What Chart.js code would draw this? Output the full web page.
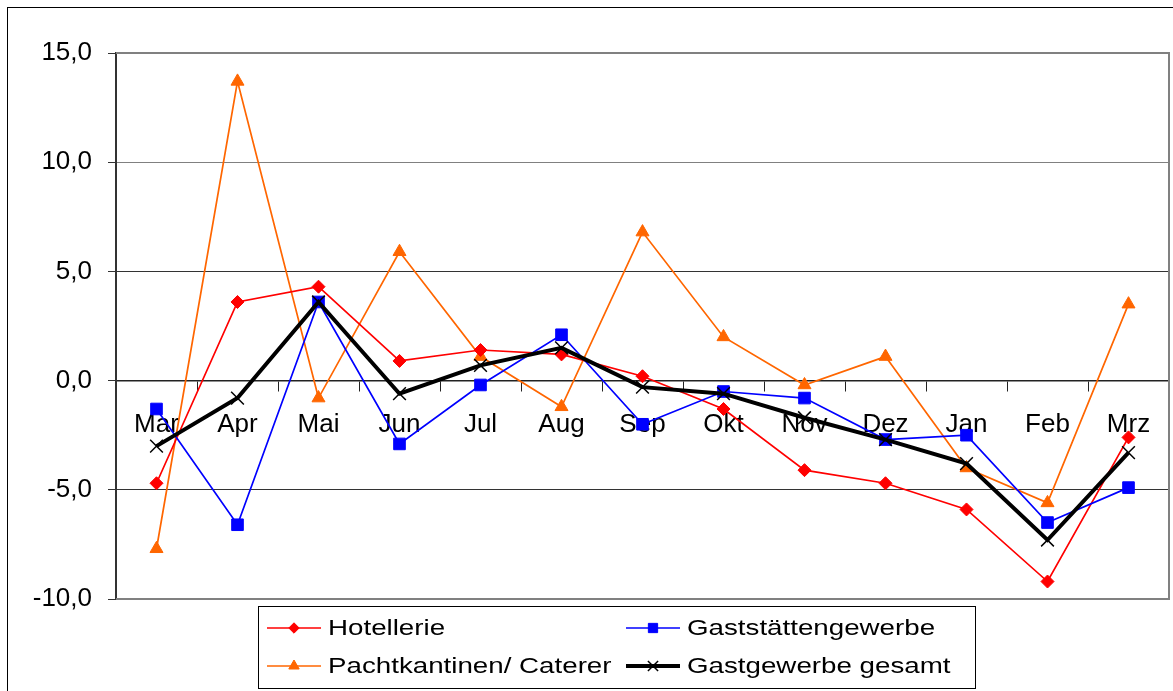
<!DOCTYPE html>
<html><head><meta charset="utf-8">
<script src="https://cdn.jsdelivr.net/npm/chart.js@4.4.0/dist/chart.umd.min.js"></script>
<style>html,body{margin:0;padding:0;background:#fff;} canvas{display:block;}</style>
</head><body>
<canvas id="c" width="1173" height="691"></canvas>
<script>
const categories = ['Mar','Apr','Mai','Jun','Jul','Aug','Sep','Okt','Nov','Dez','Jan','Feb','Mrz'];
const hotellerie = [-4.7, 3.6, 4.3, 0.9, 1.4, 1.2, 0.2, -1.3, -4.1, -4.7, -5.9, -9.2, -2.6];
const gaststaetten = [-1.3, -6.6, 3.6, -2.9, -0.2, 2.1, -2.0, -0.5, -0.8, -2.7, -2.5, -6.5, -4.9];
const pachtkantinen = [-7.7, 13.7, -0.8, 5.9, 1.1, -1.2, 6.8, 2.0, -0.2, 1.1, -4.0, -5.6, 3.5];
const gesamt = [-3.0, -0.8, 3.6, -0.6, 0.7, 1.5, -0.3, -0.6, -1.7, -2.7, -3.8, -7.3, -3.3];
const seriesNames = ['Hotellerie', 'Gaststättengewerbe', 'Pachtkantinen/ Caterer', 'Gastgewerbe gesamt'];
const yTickLabels = {'-10': '-10,0', '-5': '-5,0', '0': '0,0', '5': '5,0', '10': '10,0', '15': '15,0'};

const FONT = '"Liberation Sans", Arial, sans-serif';

const framePlugin = {
  id: 'frame',
  beforeDraw(chart) {
    const ctx = chart.ctx;
    ctx.save();
    ctx.fillStyle = '#fff';
    ctx.fillRect(0, 0, chart.width, chart.height);
    ctx.strokeStyle = '#000';
    ctx.lineWidth = 1;
    ctx.strokeRect(7.5, 7.5, 1300, 800);
    ctx.restore();
  },
  beforeDatasetsDraw(chart) {
    const a = chart.chartArea, ctx = chart.ctx;
    ctx.save();
    ctx.strokeStyle = '#808080';
    ctx.lineWidth = 2;
    ctx.beginPath();
    ctx.moveTo(a.left, a.top); ctx.lineTo(a.right, a.top);
    ctx.lineTo(a.right, a.bottom); ctx.lineTo(a.left, a.bottom);
    ctx.stroke();
    ctx.restore();
  }
};

function drawMarker(ctx, style, r, x, y) {
  if (Chart.helpers && Chart.helpers.drawPoint) {
    Chart.helpers.drawPoint(ctx, {pointStyle: style, radius: r, borderWidth: ctx.lineWidth, rotation: 0}, x, y);
  }
}

const legendPlugin = {
  id: 'customLegend',
  afterDraw(chart) {
    const ctx = chart.ctx;
    ctx.save();
    ctx.strokeStyle = '#000';
    ctx.lineWidth = 1;
    ctx.strokeRect(258.5, 606.5, 717, 82);
    const cols = [267, 626];
    const rows = [628, 666];
    const slots = [[0, 0], [1, 0], [0, 1], [1, 1]];
    chart.data.datasets.forEach((ds, i) => {
      const [c, r] = slots[i];
      const x0 = cols[c], y = rows[r];
      ctx.strokeStyle = ds.borderColor;
      ctx.lineWidth = ds.borderWidth;
      ctx.beginPath(); ctx.moveTo(x0, y); ctx.lineTo(x0 + 54, y); ctx.stroke();
      ctx.fillStyle = ds.pointBackgroundColor;
      ctx.strokeStyle = ds.pointBorderColor;
      ctx.lineWidth = ds.pointBorderWidth;
      drawMarker(ctx, ds.pointStyle, ds.pointRadius * 0.8, x0 + 27, y);
      ctx.save();
      ctx.fillStyle = '#000';
      ctx.font = '22px ' + FONT;
      ctx.textBaseline = 'middle';
      ctx.translate(x0 + 61, y + 1);
      ctx.scale(1.26, 1);
      ctx.fillText(ds.label, 0, 0);
      ctx.restore();
    });
    ctx.restore();
  }
};

function mkDs(label, data, color, style, radius, width, order, pbw) {
  return {
    label, data, borderColor: color, backgroundColor: color,
    pointBackgroundColor: color, pointBorderColor: color,
    pointStyle: style, pointRadius: radius, pointHoverRadius: radius,
    pointBorderWidth: pbw, borderWidth: width, tension: 0, fill: false, order
  };
}

new Chart(document.getElementById('c'), {
  type: 'line',
  data: {
    labels: categories,
    datasets: [
      mkDs(seriesNames[0], hotellerie, '#FF0000', 'rectRot', 6.5, 1.7, 3, 1),
      mkDs(seriesNames[1], gaststaetten, '#0000FF', 'rect', 8.2, 1.7, 2, 1),
      mkDs(seriesNames[2], pachtkantinen, '#FF6600', 'triangle', 7.5, 1.7, 4, 1),
      mkDs(seriesNames[3], gesamt, '#000000', 'crossRot', 9, 4, 1, 1.5)
    ]
  },
  options: {
    responsive: false,
    animation: false,
    devicePixelRatio: 1,
    layout: {autoPadding: false, padding: {left: 0, top: 53, right: 4, bottom: 92}},
    plugins: {legend: {display: false}, tooltip: {enabled: false}, title: {display: false}},
    scales: {
      x: {
        position: {y: 0},
        offset: true,
        ticks: {color: '#000', font: {size: 26, family: FONT}, padding: 19, maxRotation: 0, autoSkip: false},
        grid: {drawOnChartArea: false, drawTicks: true, tickLength: 10, offset: true, color: '#222', lineWidth: 1},
        border: {display: true, color: '#222', width: 1.5},
        afterFit(s) { s.paddingLeft = 0; s.paddingRight = 0; }
      },
      y: {
        min: -10, max: 15,
        ticks: {stepSize: 5, padding: 16, color: '#000', font: {size: 26, family: FONT},
          callback: v => yTickLabels[String(v)]},
        grid: {
          color: c => {
            const v = c.tick ? c.tick.value : null;
            if (v === 15 || v === -10) return '#808080';
            if (v === 10) return '#808080';
            return '#333';
          },
          lineWidth: 1, tickLength: 8, tickColor: '#333', drawTicks: true
        },
        border: {display: true, color: '#333', width: 2},
        afterFit(s) { s.width = 116; }
      }
    }
  },
  plugins: [framePlugin, legendPlugin]
});
</script>
</body></html>
